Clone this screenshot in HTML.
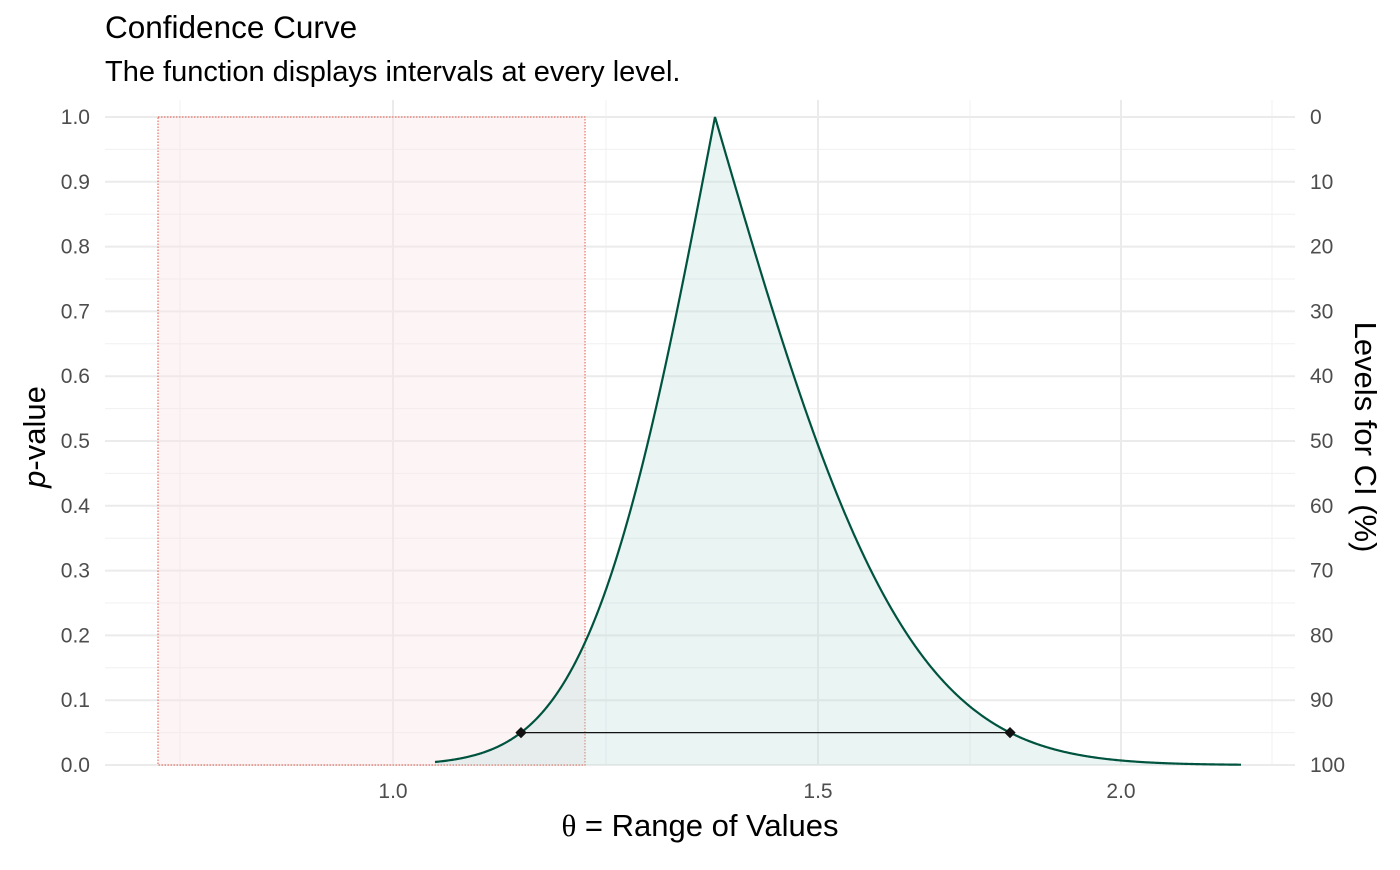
<!DOCTYPE html>
<html><head><meta charset="utf-8"><style>
body{margin:0;background:#fff;}
svg text{font-family:"Liberation Sans",sans-serif;}
</style></head><body>
<svg id="s" width="1400" height="865" xmlns="http://www.w3.org/2000/svg">
<rect width="1400" height="865" fill="#fff"/>
<g stroke="#f0f0f0" stroke-width="1">
<line x1="105" x2="1295" y1="149.4" y2="149.4"/><line x1="105" x2="1295" y1="214.2" y2="214.2"/>
<line x1="105" x2="1295" y1="279" y2="279"/><line x1="105" x2="1295" y1="343.8" y2="343.8"/>
<line x1="105" x2="1295" y1="408.6" y2="408.6"/><line x1="105" x2="1295" y1="473.4" y2="473.4"/>
<line x1="105" x2="1295" y1="538.2" y2="538.2"/><line x1="105" x2="1295" y1="603" y2="603"/>
<line x1="105" x2="1295" y1="667.8" y2="667.8"/><line x1="105" x2="1295" y1="732.6" y2="732.6"/>
<line x1="180" x2="180" y1="100" y2="765"/><line x1="606" x2="606" y1="100" y2="765"/>
<line x1="970" x2="970" y1="100" y2="765"/><line x1="1272" x2="1272" y1="100" y2="765"/>
</g>
<g id="maj" stroke="#ebebeb" stroke-width="2">
<line x1="393" x2="393" y1="100" y2="765"/><line x1="818" x2="818" y1="100" y2="765"/><line x1="1121" x2="1121" y1="100" y2="765"/>
</g>
<rect x="158" y="117" width="427" height="648" fill="#f9e6e6" fill-opacity="0.4" stroke="#e05a4a" stroke-width="1" stroke-dasharray="1.5,1.5"/>
<path id="fill" fill="#b5dcd8" fill-opacity="0.3"/>
<path id="curve" fill="none" stroke="#00543f" stroke-width="2.2"/>
<line x1="521" x2="1010" y1="732.6" y2="732.6" stroke="#111" stroke-width="1.3"/>
<rect x="517" y="728.6" width="8" height="8" fill="#111" transform="rotate(45 521 732.6)"/>
<rect x="1006" y="728.6" width="8" height="8" fill="#111" transform="rotate(45 1010 732.6)"/>
<g font-size="21" fill="#4d4d4d" id="yl"></g>
<g font-size="21" fill="#4d4d4d" text-anchor="middle">
<text x="393" y="798">1.0</text><text x="818" y="798">1.5</text><text x="1121" y="798">2.0</text>
</g>
<text x="105" y="38" font-size="31.5" fill="#000">Confidence Curve</text>
<text x="105" y="81" font-size="29" fill="#000">The function displays intervals at every level.</text>
<text x="700" y="836" font-size="31" fill="#000" text-anchor="middle"><tspan font-family="Liberation Serif">θ</tspan> =  Range of Values</text>
<text transform="translate(45 437) rotate(-90)" font-size="31" text-anchor="middle" fill="#000"><tspan font-style="italic">p</tspan>-value</text>
<text transform="translate(1355 437) rotate(90)" font-size="31" text-anchor="middle" fill="#000">Levels for CI (%)</text>
</svg>
<script>
function erf(x){var s=x<0?-1:1;x=Math.abs(x);var t=1/(1+0.3275911*x);var y=1-(((((1.061405429*t-1.453152027)*t)+1.421413741)*t-0.284496736)*t+0.254829592)*t*Math.exp(-x*x);return s*y;}
function p(x){var z=x<715?(715-x)/99:(x-715)/150.5;return 1-erf(z/Math.SQRT2);}
var d="",f="";
for(var x=435;x<=1241;x+=1){var y=765-648*p(x);d+=(x==435?"M":"L")+x+","+y.toFixed(2);}
f="M435,765"+d.replace("M","L")+"L1241,765Z";
document.getElementById("curve").setAttribute("d",d);
document.getElementById("fill").setAttribute("d",f);
var g=document.getElementById("yl"),h="";
for(var i=0;i<=10;i++){var y=765-64.8*i;
h+='<line x1="105" x2="1295" y1="'+y+'" y2="'+y+'" stroke="#ebebeb" stroke-width="2"/>';
h+='<text x="90" y="'+(y+7)+'" text-anchor="end">'+(i==10?"1.0":"0."+i)+'</text>';
h+='<text x="1310" y="'+(y+7)+'">'+(100-10*i)+'</text>';}
g.innerHTML=h;
var m=document.getElementById("maj");m.parentNode.insertBefore(g,m.nextSibling);
</script>
</body></html>
